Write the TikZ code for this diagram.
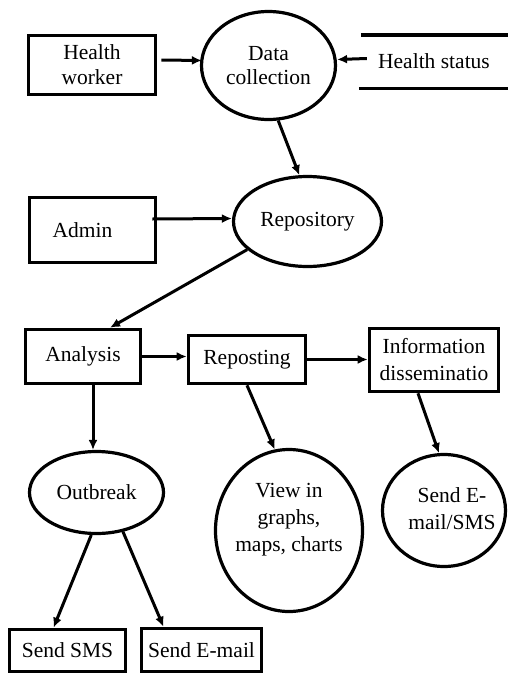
\documentclass[tikz,border=0pt]{standalone}
\usepackage{fontspec}
\setmainfont{Liberation Serif}
\usetikzlibrary{shapes.geometric,arrows.meta}
\tikzset{
  box/.style={draw, rectangle, line width=3.6pt, inner sep=0pt, align=center},
  oval/.style={draw, ellipse, line width=3.2pt, inner sep=0pt, align=center},
  arr/.style={line width=3pt, -{Latex[length=10pt,width=9pt]}},
  storeline/.style={line width=3.4pt}
}
\begin{document}
\begin{tikzpicture}[x=1pt,y=-1pt,font=\fontsize{21.5}{27}\selectfont]
\useasboundingbox (0,0) rectangle (507,675);
% nodes
\node[box, minimum width=127pt, minimum height=59pt, font=\fontsize{21.5}{25}\selectfont] (hw) at (92,65) {Health\\worker};
\node[oval, minimum width=134pt, minimum height=108pt, font=\fontsize{21.5}{24}\selectfont] (dc) at (268.5,65.5) {Data\\collection};
\node[minimum width=150pt, minimum height=53pt, inner sep=0pt] (hs) at (434,61.5) {Health status};
\draw[storeline] ([xshift=2pt]hs.north west) -- (hs.north east);
\draw[storeline] (hs.south west) -- (hs.south east);
\node[box, minimum width=126pt, minimum height=65pt,
      label={[xshift=-10pt]center:Admin}] (admin) at (92.5,230) {};
\node[oval, minimum width=148pt, minimum height=90pt] (rep) at (307.5,221.5) {Repository};
\node[box, minimum width=115pt, minimum height=54pt] (an) at (83,356.5) {Analysis};
\node[box, minimum width=117pt, minimum height=48pt] (rp) at (247,359.5) {Reposting};
\node[box, minimum width=129pt, minimum height=63pt] (info) at (434,360) {Information\\disseminatio};
\node[oval, minimum width=134pt, minimum height=82pt] (ob) at (96.5,492.5) {Outbreak};
\node[oval, minimum width=147pt, minimum height=162pt,
      label={[align=center,yshift=11pt]center:View in\\graphs,\\maps, charts}] (view) at (289,530.5) {};
\node[oval, minimum width=123pt, minimum height=112pt,
      label={[align=center,xshift=8pt,yshift=2pt]center:Send E-\\mail/SMS}] (sem) at (444,510.5) {};
\node[box, minimum width=116pt, minimum height=42pt] (sms) at (67.5,650.5) {Send SMS};
\node[box, minimum width=120pt, minimum height=43pt] (em) at (201.5,650) {Send E-mail};
% connectors
\draw[arr] ([xshift=4pt,yshift=5pt]hw.east) -- ([xshift=2pt,yshift=5pt]dc.west);
\draw[arr] ([xshift=8pt,yshift=3pt]hs.west) -- ([yshift=6pt]dc.east);
\draw[arr] (dc.-80) -- (rep.100);
\draw[arr] ([xshift=-5pt,yshift=11pt]admin.east) -- ([yshift=3pt]rep.west);
\draw[arr] (rep.205) -- ([xshift=27pt]an.north);
\draw[arr] (an.east) -- (an.east -| rp.west);
\draw[arr] (rp.east) -- (rp.east -| info.west);
\draw[arr] ([xshift=10pt]an.south) -- ([xshift=10pt]an.south |- ob.north);
\draw[arr] (rp.south) -- (view.100);
\draw[arr] ([xshift=-16pt]info.south) -- (sem.95);
\draw[arr] (ob.263) -- ([xshift=-14pt]sms.north);
\draw[arr] (ob.-56) -- ([xshift=-38pt]em.north);
\end{tikzpicture}
\end{document}
